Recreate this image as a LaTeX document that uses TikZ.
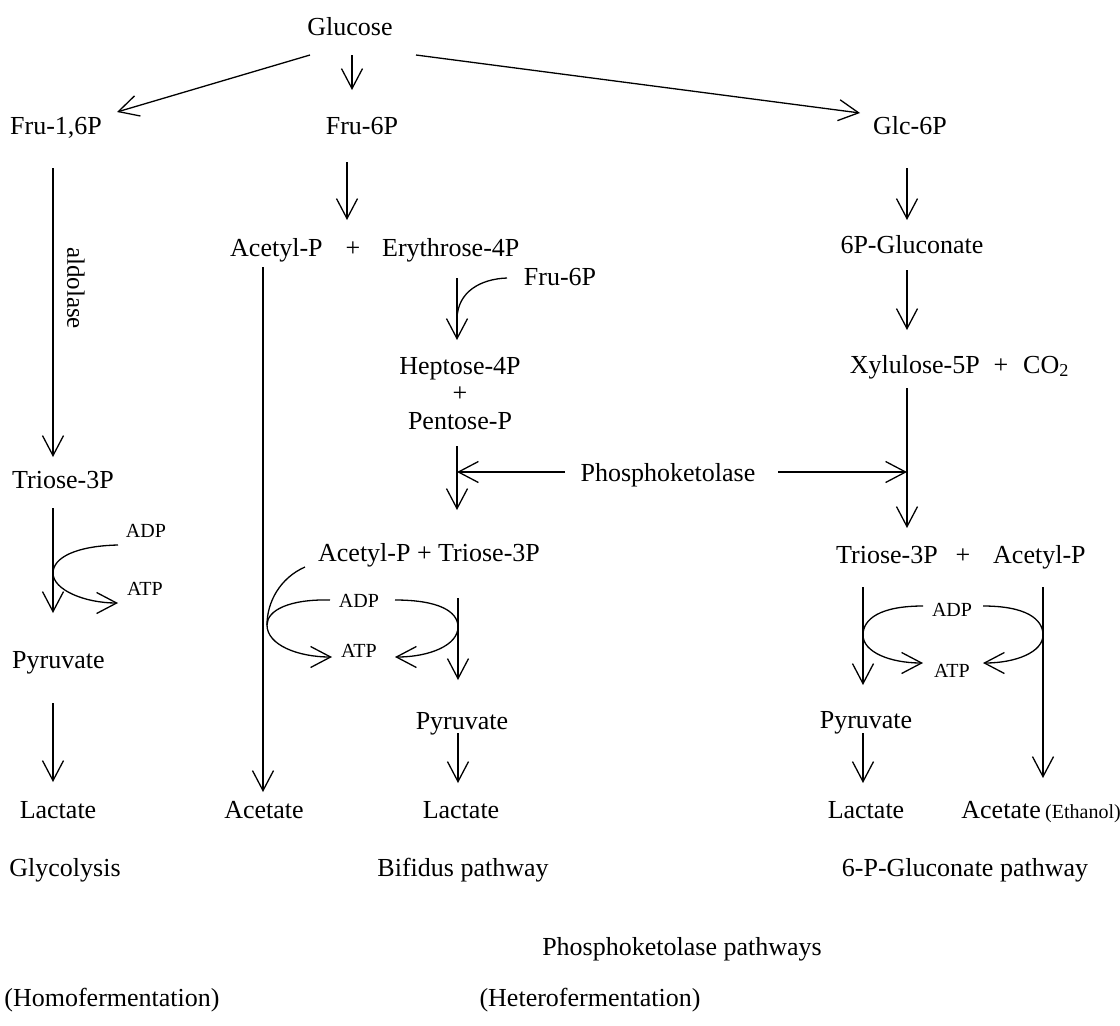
\documentclass[tikz,border=0pt]{standalone}
\usepackage{fontspec}
\setmainfont{Liberation Serif}
\usetikzlibrary{arrows.meta}
\tikzset{
  lbl/.style={font=\fontsize{26}{30}\selectfont, inner sep=0pt, anchor=base},
  sml/.style={font=\fontsize{20}{24}\selectfont, inner sep=0pt, anchor=base},
  arr/.style={line width=1.3pt, -{Straight Barb[length=20pt,width=21pt,line width=1.3pt]}},
  ln/.style={line width=1.3pt},
}
\begin{document}
\begin{tikzpicture}[x=1pt,y=-1pt]
\useasboundingbox (0,0) rectangle (1120,1026);
% ---------- labels ----------
\node[lbl] (glc) at (350,35) {Glucose};
\node[lbl,anchor=base west] (f16) at (10,134) {Fru-1,6P};
\node[lbl] (f6) at (362,134) {Fru-6P};
\node[lbl] (g6) at (910,134) {Glc-6P};
% glycolysis column
\node[lbl,anchor=base west] (tri1) at (12,488) {Triose-3P};
\node[lbl,anchor=base west] (pyr1) at (12,668) {Pyruvate};
\node[lbl] (lac1) at (58,818) {Lactate};
\node[lbl] (glyco) at (65,876) {Glycolysis};
\node[lbl] (homo) at (112,1006) {(Homofermentation)};
\node[sml] (adp1) at (146,537) {ADP};
\node[sml] (atp1) at (145,595) {ATP};
\node[font=\fontsize{25}{30}\selectfont, inner sep=0pt, rotate=-90] (ald) at (76,288) {aldolase};
% bifidus column
\node[lbl,anchor=base west] (acp) at (230,256) {Acetyl-P};
\node[lbl] (plus1) at (353,256) {+};
\node[lbl,anchor=base west] (ery) at (382,256) {Erythrose-4P};
\node[lbl] (f6b) at (560,285) {Fru-6P};
\node[lbl] (hep) at (460,374) {Heptose-4P};
\node[lbl] (plus2) at (460,401) {+};
\node[lbl] (pen) at (460,429) {Pentose-P};
\node[lbl] (pk) at (668,481) {Phosphoketolase};
\node[lbl] (acptri) at (429,561) {Acetyl-P + Triose-3P};
\node[sml] (adp2) at (359,607) {ADP};
\node[sml] (atp2) at (359,657) {ATP};
\node[lbl] (pyr2) at (462,729) {Pyruvate};
\node[lbl] (lac2) at (461,818) {Lactate};
\node[lbl] (ace2) at (264,818) {Acetate};
\node[lbl] (bif) at (463,876) {Bifidus pathway};
\node[lbl] (pkp) at (682,955) {Phosphoketolase pathways};
\node[lbl] (hetero) at (590,1006) {(Heterofermentation)};
% 6PG column
\node[lbl] (gluc) at (912,253) {6P-Gluconate};
\node[lbl,anchor=base east] (xyl) at (980,373) {Xylulose-5P};
\node[lbl] (plus3) at (1001,373) {+};
\node[lbl,anchor=base west] (co2) at (1023,373) {CO\textsubscript{2}};
\node[lbl,anchor=base east] (tri3) at (938,563) {Triose-3P};
\node[lbl] (plus4) at (963,563) {+};
\node[lbl,anchor=base west] (acp3) at (993,563) {Acetyl-P};
\node[sml] (adp3) at (952,616) {ADP};
\node[sml] (atp3) at (952,677) {ATP};
\node[lbl] (pyr3) at (866,728) {Pyruvate};
\node[lbl] (lac3) at (866,818) {Lactate};
\node[lbl,anchor=base east] (ace3) at (1041,818) {Acetate};
\node[sml,anchor=base west] (eth) at (1045,818) {(Ethanol)};
\node[lbl] (gpp) at (965,876) {6-P-Gluconate pathway};
% ---------- coordinates ----------
\coordinate (c1) at (310,55);   \coordinate (c2) at (117,112);
\coordinate (c3) at (352,55);   \coordinate (c4) at (352,90);
\coordinate (c5) at (416,55);   \coordinate (c6) at (860,113);
\coordinate (a1) at (53,168);   \coordinate (a2) at (53,457);
\coordinate (a3) at (53,508);   \coordinate (a4) at (53,613);
\coordinate (a5) at (53,703);   \coordinate (a6) at (53,782);
\coordinate (b1) at (347,162);  \coordinate (b2) at (347,220);
\coordinate (b3) at (263,267);  \coordinate (b4) at (263,792);
\coordinate (b5) at (457,278);  \coordinate (b6) at (457,340);
\coordinate (b7) at (507,278);  \coordinate (b8) at (457,318);
\coordinate (b9) at (457,446);  \coordinate (b10) at (457,510);
\coordinate (k1) at (565,472);  \coordinate (k2) at (457,472);
\coordinate (k3) at (778,472);  \coordinate (k4) at (907,472);
\coordinate (m1) at (458,598);  \coordinate (m2) at (458,680);
\coordinate (m3) at (458,733);  \coordinate (m4) at (458,783);
\coordinate (r1) at (907,168);  \coordinate (r2) at (907,220);
\coordinate (r3) at (907,270);  \coordinate (r4) at (907,330);
\coordinate (r5) at (907,388);  \coordinate (r6) at (907,528);
\coordinate (s1) at (863,587);  \coordinate (s2) at (863,685);
\coordinate (s3) at (1043,587); \coordinate (s4) at (1043,778);
\coordinate (s5) at (863,733);  \coordinate (s6) at (863,783);
% ---------- arrows ----------
\draw[arr] (c1) -- (c2);
\draw[arr] (c3) -- (c4);
\draw[arr] (c5) -- (c6);
\draw[arr] (a1) -- (a2);
\draw[arr] (a3) -- (a4);
\draw[arr] (a5) -- (a6);
\draw[arr] (118,545) .. controls (75,546) and (53,558) .. (53,573)
           .. controls (53,590) and (85,603) .. (118,603);
\draw[arr] (b1) -- (b2);
\draw[arr] (b3) -- (b4);
\draw[arr] (b5) -- (b6);
\draw[ln] (b7) .. controls (480,279) and (458,292) .. (b8);
\draw[arr] (b9) -- (b10);
\draw[arr] (k1) -- (k2);
\draw[arr] (k3) -- (k4);
\draw[arr] (m1) -- (m2);
\draw[arr] (m3) -- (m4);
\draw[ln] (305,567) .. controls (280,578) and (267,602) .. (267,625);
\draw[arr] (330,600) .. controls (290,599) and (267,610) .. (267,625)
           .. controls (267,645) and (298,657) .. (332,657);
\draw[arr] (395,600) .. controls (438,600) and (458,611) .. (458,627)
           .. controls (458,645) and (430,657) .. (395,657);
\draw[arr] (r1) -- (r2);
\draw[arr] (r3) -- (r4);
\draw[arr] (r5) -- (r6);
\draw[arr] (s1) -- (s2);
\draw[arr] (s3) -- (s4);
\draw[arr] (s5) -- (s6);
\draw[arr] (923,606) .. controls (880,606) and (863,619) .. (863,635)
           .. controls (863,652) and (890,663) .. (923,663);
\draw[arr] (983,606) .. controls (1026,606) and (1043,619) .. (1043,635)
           .. controls (1043,652) and (1016,663) .. (983,663);
\end{tikzpicture}
\end{document}
